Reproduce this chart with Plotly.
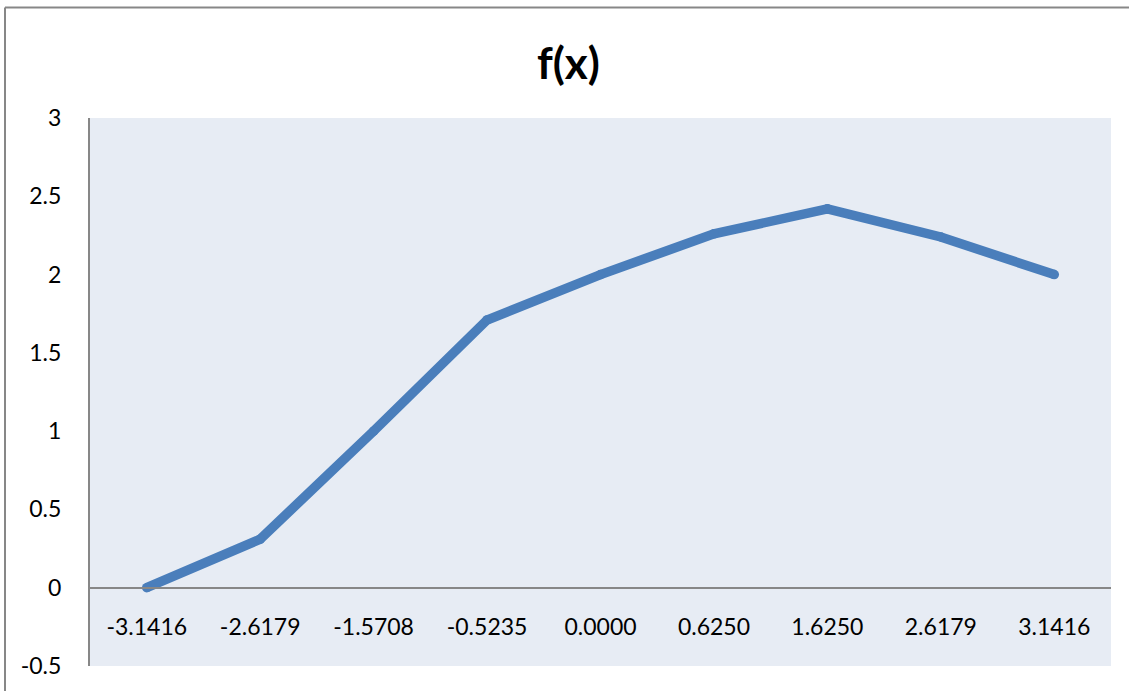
import plotly.graph_objects as go

# Sample points of f(x) on a categorical x axis
x_labels = ["-3.1416", "-2.6179", "-1.5708", "-0.5235", "0.0000",
            "0.6250", "1.6250", "2.6179", "3.1416"]
f_values = [0.0, 0.31, 1.0, 1.71, 2.0, 2.26, 2.42, 2.24, 2.0]

y_ticks = [-0.5, 0, 0.5, 1, 1.5, 2, 2.5, 3]
y_tick_text = ["-0.5", "0", "0.5", "1", "1.5", "2", "2.5", "3"]

W, H = 1129, 691
L, R, T, B = 90, 18, 118, 23
pw, ph = W - L - R, H - T - B

def px(xpix):
    return (xpix - L) / pw

def py(ypix):
    return (H - B - ypix) / ph

axis_grey = "#878787"
line_blue = "#4A7EBB"
font_family = "Lato, 'Open Sans', sans-serif"

fig = go.Figure()
fig.add_trace(go.Scatter(
    x=x_labels, y=f_values, mode="lines+markers",
    line=dict(color=line_blue, width=9.5),
    # round markers give the line rounded ends and joins
    marker=dict(color=line_blue, size=9.5, line=dict(width=0)),
    hoverinfo="x+y", showlegend=False,
))

y_min, y_max = -0.5, 3
zero_pos = (0 - y_min) / (y_max - y_min)

fig.update_layout(
    width=W, height=H,
    margin=dict(l=L, r=R, t=T, b=B, pad=0),
    paper_bgcolor="white",
    plot_bgcolor="#E7ECF4",
    font=dict(family=font_family, size=23, color="black"),
    xaxis=dict(
        type="category",
        anchor="free", position=zero_pos,
        showline=True, linecolor=axis_grey, linewidth=1.5,
        showgrid=False, zeroline=False,
        ticks="", ticklabelstandoff=19,
        tickfont=dict(size=23),
        range=[-0.5, len(x_labels) - 0.5],
        fixedrange=True,
    ),
    yaxis=dict(
        range=[y_min, y_max],
        tickvals=y_ticks, ticktext=y_tick_text,
        showline=True, linecolor=axis_grey, linewidth=2,
        showgrid=False, zeroline=False,
        ticks="", ticklabelstandoff=22,
        tickfont=dict(size=23),
        fixedrange=True,
    ),
    annotations=[dict(
        text="<b>f(x)</b>", x=px(568), y=py(62),
        xref="paper", yref="paper", xanchor="center", yanchor="middle",
        showarrow=False, font=dict(size=44, family=font_family),
    )],
    shapes=[
        # outer chart border (left and top edges)
        dict(type="line", xref="paper", yref="paper",
             x0=px(5), x1=px(5), y0=py(7), y1=py(700),
             line=dict(color=axis_grey, width=2)),
        dict(type="line", xref="paper", yref="paper",
             x0=px(5), x1=px(1140), y0=py(7), y1=py(7),
             line=dict(color=axis_grey, width=2)),
    ],
)

fig.write_html("out.html")
